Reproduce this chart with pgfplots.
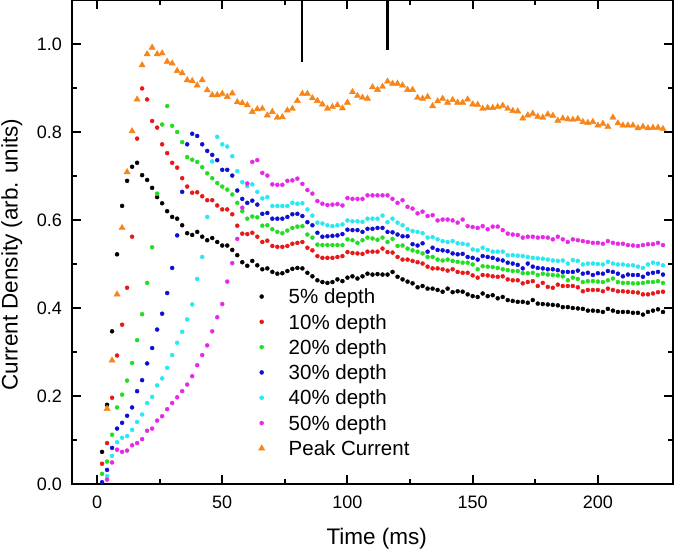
\documentclass[border=0pt]{standalone}
\usepackage{fontspec}
\setmainfont{Liberation Sans}
\usepackage{pgfplots}
\pgfplotsset{compat=1.18}
\usetikzlibrary{calc}
\definecolor{cred}{RGB}{232,24,24}
\definecolor{cgreen}{RGB}{34,222,34}
\definecolor{cblue}{RGB}{14,14,214}
\definecolor{ccyan}{RGB}{40,232,240}
\definecolor{cmag}{RGB}{232,40,232}
\definecolor{corange}{RGB}{247,133,25}
\begin{document}
\begin{tikzpicture}
\begin{axis}[
  at={(0,0)}, anchor=south west,
  width=601pt, height=484pt, scale only axis,
  xmin=-10, xmax=230, ymin=0, ymax=1.1,
  clip=false,
  xtick={0,50,100,150,200}, minor x tick num=1,
  ytick={0,0.2,0.4,0.6,0.8,1.0}, minor y tick num=1,
  tick align=inside, major tick length=9pt, minor tick length=5pt,
  tick style={black, line width=2pt},
  axis line style={black, line width=2pt},
  /pgf/number format/assume math mode=true,
  tick label style={font=\fontsize{18}{21}\selectfont},
  yticklabel style={/pgf/number format/fixed, /pgf/number format/fixed zerofill, /pgf/number format/precision=1, anchor=east, inner sep=0pt, xshift=-10pt},
  xticklabel style={anchor=north, inner sep=0pt, yshift=-12pt},
  label style={font=\fontsize{22.5}{26}\selectfont},
  xlabel={Time (ms)},
  ylabel={Current Density (arb. units)},
  xlabel style={at={(axis description cs:0.507,-0.114)}, anchor=center},
  ylabel style={at={(axis description cs:-0.1,0.474)}, anchor=center},
  legend cell align=left,
  legend style={at={(rel axis cs:0.309,0.4033)}, anchor=north west, draw=none, fill=none,
    inner sep=0pt, outer sep=0pt, row sep=9.8pt, column sep=0pt,
    font=\fontsize{20.5}{24}\selectfont,
    nodes={inner sep=0pt, text height=15pt, text depth=0.5pt, anchor=west}},
  legend image code/.code={\path[draw=none, fill=none] (-4pt,-5pt) rectangle (27pt,5pt); \draw[#1] plot coordinates {(0pt,0pt)};},
]
\addplot[black, line width=2.2pt, mark=none, forget plot] coordinates {(82,1.1) (82,0.959)};
\addplot[black, line width=2.2pt, mark=none, forget plot] coordinates {(116,1.1) (116,0.986)};

% 5% depth
\addplot[only marks, mark=*, mark size=2pt, black] coordinates {
(2,0.073) (4,0.18) (6,0.347) (8,0.522) (10,0.632) (12,0.689) (14,0.721) (16,0.730) (18,0.702) (20,0.691)
(22,0.673) (24,0.652) (26,0.638) (28,0.620) (30,0.607) (32,0.603) (34,0.588) (36,0.570) (38,0.566) (40,0.573)
(42,0.562) (44,0.554) (46,0.559) (48,0.550) (50,0.542) (52,0.542) (54,0.532) (56,0.520) (58,0.504) (60,0.496)
(62,0.507) (64,0.497) (66,0.488) (68,0.490) (70,0.482) (72,0.478) (74,0.479) (76,0.484) (78,0.489) (80,0.491)
(82,0.490) (84,0.480) (86,0.472) (88,0.463) (90,0.459) (92,0.457) (94,0.459) (96,0.465) (98,0.461) (100,0.469)
(102,0.472) (104,0.467) (106,0.472) (108,0.478) (110,0.476) (112,0.477) (114,0.476) (116,0.476) (118,0.482) (120,0.471)
(122,0.465) (124,0.460) (126,0.456) (128,0.447) (130,0.450) (132,0.444) (134,0.444) (136,0.441) (138,0.437) (140,0.444)
(142,0.436) (144,0.438) (146,0.437) (148,0.431) (150,0.427) (152,0.425) (154,0.433) (156,0.427) (158,0.429) (160,0.422)
(162,0.425) (164,0.418) (166,0.416) (168,0.414) (170,0.414) (172,0.412) (174,0.418) (176,0.410) (178,0.409) (180,0.408)
(182,0.407) (184,0.406) (186,0.402) (188,0.402) (190,0.400) (192,0.399) (194,0.398) (196,0.394) (198,0.394) (200,0.393)
(202,0.391) (204,0.398) (206,0.394) (208,0.391) (210,0.391) (212,0.391) (214,0.389) (216,0.389) (218,0.385) (220,0.391)
(222,0.394) (224,0.397) (226,0.391)};
\addlegendentry{5\% depth}

% 10% depth
\addplot[only marks, mark=*, mark size=2pt, cred] coordinates {
(2,0.046) (4,0.093) (6,0.196) (8,0.292) (10,0.362) (12,0.446) (14,0.562) (16,0.785) (18,0.899) (20,0.874)
(22,0.825) (24,0.810) (26,0.772) (28,0.752) (30,0.730) (32,0.719) (34,0.695) (36,0.676) (38,0.662) (40,0.663)
(42,0.654) (44,0.645) (46,0.645) (48,0.633) (50,0.624) (52,0.624) (54,0.613) (56,0.587) (58,0.569) (60,0.568)
(62,0.571) (64,0.562) (66,0.550) (68,0.553) (70,0.541) (72,0.539) (74,0.539) (76,0.541) (78,0.546) (80,0.548)
(82,0.550) (84,0.537) (86,0.531) (88,0.518) (90,0.514) (92,0.514) (94,0.514) (96,0.516) (98,0.518) (100,0.527)
(102,0.525) (104,0.524) (106,0.523) (108,0.528) (110,0.528) (112,0.528) (114,0.535) (116,0.527) (118,0.526) (120,0.516)
(122,0.510) (124,0.510) (126,0.507) (128,0.504) (130,0.501) (132,0.494) (134,0.490) (136,0.490) (138,0.488) (140,0.485)
(142,0.488) (144,0.482) (146,0.480) (148,0.480) (150,0.474) (152,0.469) (154,0.475) (156,0.474) (158,0.472) (160,0.471)
(162,0.472) (164,0.465) (166,0.463) (168,0.463) (170,0.456) (172,0.459) (174,0.461) (176,0.450) (178,0.457) (180,0.448)
(182,0.446) (184,0.453) (186,0.450) (188,0.450) (190,0.450) (192,0.447) (194,0.438) (196,0.441) (198,0.441) (200,0.441)
(202,0.438) (204,0.444) (206,0.441) (208,0.438) (210,0.438) (212,0.437) (214,0.436) (216,0.435) (218,0.431) (220,0.431)
(222,0.433) (224,0.436) (226,0.437)};
\addlegendentry{10\% depth}

% 20% depth
\addplot[only marks, mark=*, mark size=2pt, cgreen] coordinates {
(2,0.023) (4,0.051) (6,0.112) (8,0.174) (10,0.203) (12,0.235) (14,0.275) (16,0.327) (18,0.386) (20,0.457)
(22,0.538) (24,0.660) (26,0.817) (28,0.859) (30,0.814) (32,0.800) (34,0.777) (36,0.743) (38,0.737) (40,0.732)
(42,0.720) (44,0.706) (46,0.695) (48,0.684) (50,0.676) (52,0.669) (54,0.658) (56,0.639) (58,0.620) (60,0.603)
(62,0.608) (64,0.606) (66,0.587) (68,0.588) (70,0.579) (72,0.573) (74,0.570) (76,0.576) (78,0.582) (80,0.585)
(82,0.586) (84,0.567) (86,0.560) (88,0.544) (90,0.543) (92,0.543) (94,0.543) (96,0.543) (98,0.543) (100,0.556)
(102,0.554) (104,0.548) (106,0.554) (108,0.560) (110,0.558) (112,0.555) (114,0.560) (116,0.550) (118,0.557) (120,0.541)
(122,0.542) (124,0.535) (126,0.531) (128,0.528) (130,0.524) (132,0.516) (134,0.516) (136,0.510) (138,0.508) (140,0.510)
(142,0.507) (144,0.505) (146,0.503) (148,0.503) (150,0.499) (152,0.488) (154,0.495) (156,0.494) (158,0.493) (160,0.491)
(162,0.488) (164,0.486) (166,0.484) (168,0.484) (170,0.479) (172,0.479) (174,0.480) (176,0.475) (178,0.478) (180,0.476)
(182,0.475) (184,0.474) (186,0.472) (188,0.463) (190,0.469) (192,0.466) (194,0.459) (196,0.461) (198,0.461) (200,0.460)
(202,0.459) (204,0.463) (206,0.467) (208,0.459) (210,0.457) (212,0.457) (214,0.456) (216,0.456) (218,0.457) (220,0.459)
(222,0.459) (224,0.461) (226,0.457)};
\addlegendentry{20\% depth}

% 30% depth
\addplot[only marks, mark=*, mark size=2pt, cblue] coordinates {
(2,0.004) (4,0.032) (6,0.082) (8,0.126) (10,0.139) (12,0.155) (14,0.174) (16,0.211) (18,0.236) (20,0.274)
(22,0.309) (24,0.351) (26,0.387) (28,0.434) (30,0.491) (32,0.565) (34,0.664) (36,0.772) (38,0.796) (40,0.791)
(42,0.772) (44,0.757) (46,0.748) (48,0.736) (50,0.714) (52,0.714) (54,0.701) (56,0.667) (58,0.648) (60,0.639)
(62,0.644) (64,0.635) (66,0.614) (68,0.616) (70,0.603) (72,0.603) (74,0.603) (76,0.607) (78,0.613) (80,0.614)
(82,0.609) (84,0.595) (86,0.588) (88,0.571) (90,0.562) (92,0.563) (94,0.564) (96,0.565) (98,0.568) (100,0.578)
(102,0.577) (104,0.577) (106,0.573) (108,0.580) (110,0.580) (112,0.582) (114,0.582) (116,0.573) (118,0.572) (120,0.567)
(122,0.563) (124,0.563) (126,0.545) (128,0.542) (130,0.547) (132,0.528) (134,0.537) (136,0.532) (138,0.531) (140,0.529)
(142,0.524) (144,0.522) (146,0.523) (148,0.516) (150,0.514) (152,0.510) (154,0.518) (156,0.516) (158,0.514) (160,0.510)
(162,0.508) (164,0.503) (166,0.501) (168,0.498) (170,0.490) (172,0.501) (174,0.494) (176,0.491) (178,0.490) (180,0.488)
(182,0.488) (184,0.486) (186,0.482) (188,0.482) (190,0.482) (192,0.485) (194,0.478) (196,0.480) (198,0.475) (200,0.479)
(202,0.478) (204,0.484) (206,0.482) (208,0.478) (210,0.472) (212,0.476) (214,0.475) (216,0.475) (218,0.471) (220,0.478)
(222,0.480) (224,0.482) (226,0.476)};
\addlegendentry{30\% depth}

% 40% depth
\addplot[only marks, mark=*, mark size=2pt, ccyan] coordinates {
(4,0.018) (6,0.064) (8,0.095) (10,0.105) (12,0.109) (14,0.123) (16,0.141) (18,0.158) (20,0.184)
(22,0.198) (24,0.224) (26,0.240) (28,0.264) (30,0.293) (32,0.321) (34,0.346) (36,0.374) (38,0.408) (40,0.466)
(42,0.516) (44,0.607) (46,0.733) (48,0.789) (50,0.772) (52,0.767) (54,0.745) (56,0.711) (58,0.686) (60,0.677)
(62,0.681) (64,0.664) (66,0.649) (68,0.652) (70,0.632) (72,0.632) (74,0.632) (76,0.632) (78,0.639) (80,0.637)
(82,0.638) (84,0.624) (86,0.610) (88,0.594) (90,0.592) (92,0.588) (94,0.586) (96,0.588) (98,0.590) (100,0.599)
(102,0.597) (104,0.597) (106,0.596) (108,0.603) (110,0.603) (112,0.603) (114,0.610) (116,0.595) (118,0.603) (120,0.594)
(122,0.588) (124,0.579) (126,0.575) (128,0.573) (130,0.570) (132,0.560) (134,0.561) (136,0.556) (138,0.552) (140,0.550)
(142,0.552) (144,0.547) (146,0.546) (148,0.544) (150,0.533) (152,0.531) (154,0.537) (156,0.532) (158,0.528) (160,0.528)
(162,0.528) (164,0.520) (166,0.520) (168,0.519) (170,0.518) (172,0.516) (174,0.514) (176,0.513) (178,0.512) (180,0.510)
(182,0.508) (184,0.507) (186,0.508) (188,0.501) (190,0.509) (192,0.507) (194,0.499) (196,0.501) (198,0.501) (200,0.500)
(202,0.499) (204,0.505) (206,0.501) (208,0.499) (210,0.499) (212,0.497) (214,0.497) (216,0.494) (218,0.491) (220,0.499)
(222,0.503) (224,0.501) (226,0.497)};
\addlegendentry{40\% depth}

% 50% depth
\addplot[only marks, mark=*, mark size=2pt, cmag] coordinates {
(4,0.010) (6,0.049) (8,0.078) (10,0.073) (12,0.076) (14,0.088) (16,0.093) (18,0.102) (20,0.121)
(22,0.126) (24,0.144) (26,0.154) (28,0.170) (30,0.184) (32,0.197) (34,0.211) (36,0.226) (38,0.245) (40,0.270)
(42,0.293) (44,0.315) (46,0.347) (48,0.379) (50,0.409) (52,0.460) (54,0.502) (56,0.557) (58,0.628) (60,0.683)
(62,0.732) (64,0.736) (66,0.707) (68,0.701) (70,0.681) (72,0.680) (74,0.680) (76,0.689) (78,0.690) (80,0.694)
(82,0.682) (84,0.668) (86,0.660) (88,0.643) (90,0.637) (92,0.634) (94,0.635) (96,0.636) (98,0.633) (100,0.650)
(102,0.648) (104,0.648) (106,0.648) (108,0.656) (110,0.656) (112,0.656) (114,0.656) (116,0.656) (118,0.648) (120,0.639)
(122,0.645) (124,0.630) (126,0.626) (128,0.615) (130,0.619) (132,0.609) (134,0.611) (136,0.599) (138,0.601) (140,0.601)
(142,0.599) (144,0.594) (146,0.601) (148,0.586) (150,0.584) (152,0.582) (154,0.586) (156,0.579) (158,0.585) (160,0.585)
(162,0.577) (164,0.569) (166,0.567) (168,0.566) (170,0.560) (172,0.562) (174,0.562) (176,0.560) (178,0.561) (180,0.560)
(182,0.556) (184,0.562) (186,0.556) (188,0.550) (190,0.556) (192,0.554) (194,0.552) (196,0.550) (198,0.548) (200,0.548)
(202,0.546) (204,0.552) (206,0.548) (208,0.546) (210,0.546) (212,0.543) (214,0.542) (216,0.541) (218,0.543) (220,0.545)
(222,0.545) (224,0.548) (226,0.543)};
\addlegendentry{50\% depth}

% Peak current
\addplot[only marks, mark=triangle*, mark size=3.6pt, corange] coordinates {
(4,0.171) (6,0.281) (8,0.431) (10,0.582) (12,0.709) (14,0.802) (16,0.874) (18,0.952) (20,0.977)
(22,0.992) (24,0.977) (26,0.979) (28,0.960) (30,0.956) (32,0.939) (34,0.934) (36,0.918) (38,0.916) (40,0.906)
(42,0.918) (44,0.895) (46,0.884) (48,0.884) (50,0.887) (52,0.880) (54,0.888) (56,0.868) (58,0.866) (60,0.861)
(62,0.846) (64,0.852) (66,0.853) (68,0.838) (70,0.846) (72,0.833) (74,0.834) (76,0.849) (78,0.853) (80,0.871)
(82,0.887) (84,0.887) (86,0.877) (88,0.871) (90,0.863) (92,0.853) (94,0.857) (96,0.861) (98,0.854) (100,0.867)
(102,0.891) (104,0.882) (106,0.878) (108,0.876) (110,0.902) (112,0.896) (114,0.903) (116,0.915) (118,0.910) (120,0.910)
(122,0.906) (124,0.896) (126,0.896) (128,0.878) (130,0.876) (132,0.880) (134,0.859) (136,0.870) (138,0.876) (140,0.867)
(142,0.873) (144,0.867) (146,0.867) (148,0.874) (150,0.863) (152,0.862) (154,0.853) (156,0.855) (158,0.855) (160,0.857)
(162,0.860) (164,0.853) (166,0.848) (168,0.847) (170,0.831) (172,0.838) (174,0.842) (176,0.835) (178,0.833) (180,0.840)
(182,0.837) (184,0.826) (186,0.831) (188,0.829) (190,0.828) (192,0.830) (194,0.823) (196,0.821) (198,0.823) (200,0.815)
(202,0.819) (204,0.812) (206,0.833) (208,0.820) (210,0.815) (212,0.815) (214,0.815) (216,0.809) (218,0.812) (220,0.809)
(222,0.810) (224,0.810) (226,0.807)};
\addlegendentry{Peak Current}
\end{axis}
\pgfresetboundingbox
\path[use as bounding box] ($(current axis.south west)+(-72pt,-67pt)$) rectangle ($(current axis.north east)+(2pt,0pt)$);
\end{tikzpicture}
\end{document}
